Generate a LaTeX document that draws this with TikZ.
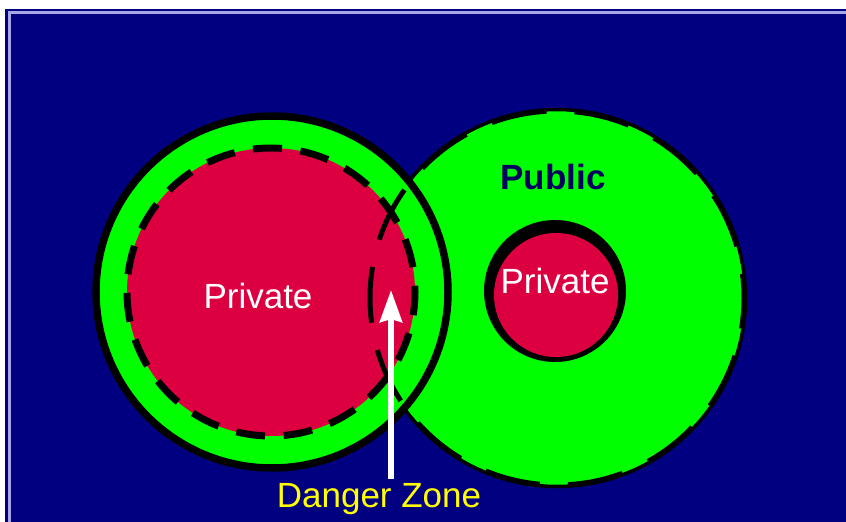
\documentclass[tikz,border=0pt]{standalone}
\usepackage{fontspec}
\setmainfont{Liberation Sans}
\usetikzlibrary{arrows.meta}

\definecolor{slidenavy}{HTML}{000080}
\definecolor{framelav}{HTML}{A8A8E8}
\definecolor{zonegreen}{HTML}{00FF00}
\definecolor{zonered}{HTML}{DD0040}
\definecolor{pubnavy}{HTML}{000060}
\definecolor{dangeryellow}{HTML}{FFFF00}

\begin{document}
\begin{tikzpicture}[
  x=1pt, y=-1pt,
  zone/.style={font=\fontsize{35}{42}\selectfont, inner sep=2pt},
  solidrim/.style={line width=7.5pt},
  dashrim/.style={line width=7pt, dash pattern=on 29pt off 18.6pt, dash phase=5.8pt},
  pubrim/.style={line width=5pt, dash pattern=on 56pt off 28pt, dash phase=25.2pt},
  pointer/.style={-{Stealth[length=32pt, width=22pt, inset=3pt]}, line width=6pt, white},
]

% === Frame ===
\useasboundingbox (0,0) rectangle (846,522);
\fill[white] (0,0) rectangle (846,522);
\fill[slidenavy] (5,9) rectangle (846,522);
\draw[framelav, line width=3pt] (9.5,522) -- (9.5,12) -- (846,12);

% === Fills ===
\fill[zonegreen] (557,298) circle (187);
\draw[line width=3.5pt] (557,298) circle (188.5);
\fill[zonegreen] (272,292) circle (176);
\fill[zonered] (271,292) circle (144);
\fill[black] (555,291) circle (71);
\fill[zonered] (556,295) circle (62);

% === Rims ===
\draw[solidrim] (272,292) circle (176);
\draw[dashrim] (271,292) circle (144);
\draw[pubrim] (557,298) circle (187);

% === Labels ===
\node[zone, text=white] (privleft) at (258,296) {Private};
\node[zone, text=white] (privright) at (555,281) {Private};
\node[zone, font=\fontsize{35}{42}\selectfont\bfseries, text=pubnavy] (public) at (553,177) {Public};
\node[zone, text=dangeryellow, anchor=base] (danger) at (379,507) {Danger Zone};

% === Pointer into the overlap ===
\coordinate (tip) at (391,290);
\draw[pointer, shorten <=2pt] (tip |- danger.north) -- (tip);

\end{tikzpicture}
\end{document}
